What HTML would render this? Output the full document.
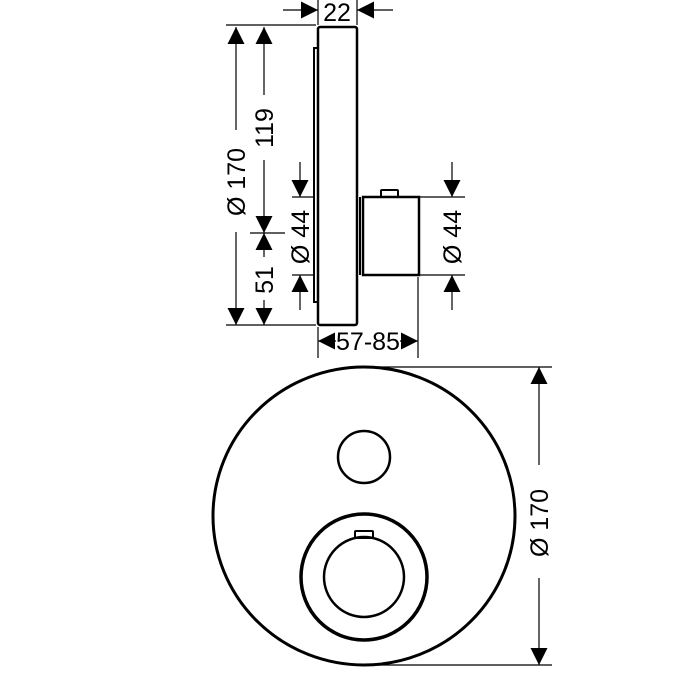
<!DOCTYPE html>
<html><head><meta charset="utf-8"><style>html,body{margin:0;padding:0;background:#fff}svg{display:block}</style></head>
<body>
<svg width="674" height="674" viewBox="0 0 674 674" xmlns="http://www.w3.org/2000/svg" font-family="Liberation Sans, DejaVu Sans, sans-serif" font-size="25" fill="none" stroke="#000">
<defs>
<marker id="a" viewBox="0 0 10 10" refX="10" refY="5" markerWidth="18" markerHeight="17" markerUnits="userSpaceOnUse" orient="auto"><path d="M0,0L10,5L0,10z" fill="#000" stroke="none"/></marker>
</defs>
<rect x="318" y="27" width="39" height="298" rx="2" stroke-width="2.5"/>
<path d="M318,48 H314 V302 H318" stroke-width="2"/>
<rect x="363" y="197" width="56" height="78" stroke-width="2.5"/>
<line x1="360" y1="197" x2="360" y2="275" stroke-width="2"/>
<rect x="381" y="190" width="17" height="7" rx="1" stroke-width="2"/>
<g stroke-width="1.2">
<line x1="318" y1="0" x2="318" y2="25"/><line x1="357" y1="0" x2="357" y2="25"/>
<line x1="283" y1="10" x2="318" y2="10" marker-end="url(#a)"/>
<line x1="393" y1="10" x2="357" y2="10" marker-end="url(#a)"/>
<line x1="226" y1="25" x2="316" y2="25"/>
<line x1="226" y1="325" x2="316" y2="325"/>
<line x1="250" y1="233" x2="285" y2="233"/>
<line x1="236" y1="130" x2="236" y2="27" marker-end="url(#a)"/>
<line x1="236" y1="232" x2="236" y2="325" marker-end="url(#a)"/>
<line x1="264" y1="95" x2="264" y2="27" marker-end="url(#a)"/>
<line x1="264" y1="160" x2="264" y2="233" marker-end="url(#a)"/>
<line x1="264" y1="257" x2="264" y2="233" marker-end="url(#a)"/>
<line x1="264" y1="300" x2="264" y2="325" marker-end="url(#a)"/>
<line x1="292" y1="197" x2="314" y2="197"/><line x1="292" y1="275" x2="314" y2="275"/>
<line x1="300" y1="162" x2="300" y2="197" marker-end="url(#a)"/>
<line x1="300" y1="310" x2="300" y2="275" marker-end="url(#a)"/>
<line x1="419" y1="197" x2="465" y2="197"/><line x1="419" y1="275" x2="465" y2="275"/>
<line x1="452" y1="162" x2="452" y2="197" marker-end="url(#a)"/>
<line x1="452" y1="310" x2="452" y2="275" marker-end="url(#a)"/>
<line x1="318" y1="327" x2="318" y2="358"/><line x1="418" y1="277" x2="418" y2="358"/>
<line x1="336" y1="341" x2="318" y2="341" marker-end="url(#a)"/>
<line x1="400" y1="341" x2="418" y2="341" marker-end="url(#a)"/>
</g>
<g fill="#000" stroke="none">
<text x="337" y="21" text-anchor="middle">22</text>
<text x="368" y="350" text-anchor="middle">57-85</text>
<text transform="translate(245,182) rotate(-90)" text-anchor="middle">Ø 170</text>
<text transform="translate(273,128) rotate(-90)" text-anchor="middle">119</text>
<text transform="translate(273,280) rotate(-90)" text-anchor="middle">51</text>
<text transform="translate(309,237) rotate(-90)" text-anchor="middle">Ø 44</text>
<text transform="translate(461,237) rotate(-90)" text-anchor="middle">Ø 44</text>
<text transform="translate(548,523) rotate(-90)" text-anchor="middle">Ø 170</text>
</g>
<ellipse cx="364" cy="516" rx="151" ry="149" stroke-width="3"/>
<circle cx="364" cy="457" r="26" stroke-width="2.5"/>
<circle cx="364" cy="577" r="63" stroke-width="3.5"/>
<circle cx="364" cy="577" r="40" stroke-width="2.5"/>
<rect x="355" y="531" width="18" height="7" rx="1" stroke-width="2"/>
<g stroke-width="1.2">
<line x1="364" y1="367" x2="552" y2="367"/>
<line x1="364" y1="665" x2="552" y2="665"/>
<line x1="539" y1="465" x2="539" y2="367" marker-end="url(#a)"/>
<line x1="539" y1="578" x2="539" y2="665" marker-end="url(#a)"/>
</g>
</svg>
</body></html>
